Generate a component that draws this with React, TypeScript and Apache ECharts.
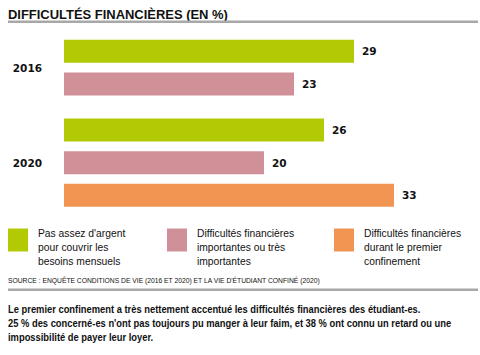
import React, { useEffect, useRef } from "react";
import * as echarts from "echarts";

const titleText = "DIFFICULTÉS FINANCIÈRES (EN %)";
const groupLabels = ["2016", "2020"];
const seriesNames = [
  "Pas assez d'argent\npour couvrir les\nbesoins mensuels",
  "Difficultés financières\nimportantes ou très\nimportantes",
  "Difficultés financières\ndurant le premier\nconfinement",
];
const seriesColors = ["#b1ca04", "#cf9098", "#f29553"];
const cats2016 = ["a", "b"];
const cats2020 = ["c", "d", "e"];
// per series: values in each category slot (null = no bar)
const green2016 = [29, null];
const pink2016 = [null, 23];
const green2020 = [26, null, null];
const pink2020 = [null, 20, null];
const orange2020 = [null, null, 33];
const sourceText =
  "SOURCE : ENQUÊTE CONDITIONS DE VIE (2016 ET 2020) ET LA VIE D'ÉTUDIANT CONFINÉ (2020)";
const noteLines = [
  "Le premier confinement a très nettement accentué les difficultés financières des étudiant-es.",
  "25 % des concerné-es n'ont pas toujours pu manger à leur faim, et 38 % ont connu un retard ou une",
  "impossibilité de payer leur loyer.",
];

const sans = "'Liberation Sans', Arial, sans-serif";
const wide = "'DejaVu Sans', sans-serif";

function measure(text: string, font: string): number {
  const c = document.createElement("canvas").getContext("2d")!;
  c.font = font;
  return c.measureText(text).width;
}

export default function App() {
  const ref = useRef<HTMLDivElement>(null);
  useEffect(() => {
    const chart = echarts.init(ref.current!, null, { renderer: "svg" });
    const label = {
      show: true,
      position: "right" as const,
      distance: 8,
      fontFamily: wide,
      fontWeight: "bold" as const,
      fontSize: 10.5,
      color: "#111",
    };
    const mk = (nameIdx: number, data: (number | null)[], gi: number) => ({
      type: "bar" as const,
      name: seriesNames[nameIdx],
      xAxisIndex: gi,
      yAxisIndex: gi,
      stack: "g" + gi,
      barWidth: 23,
      data,
      itemStyle: { color: seriesColors[nameIdx] },
      label,
    });
    const yAxisBase = {
      type: "category" as const,
      inverse: true,
      axisLine: { show: false },
      axisTick: { show: false },
      axisLabel: { show: false },
      nameLocation: "middle" as const,
      nameRotate: 0,
      nameGap: 22,
      nameTextStyle: {
        fontFamily: wide,
        fontWeight: "bold" as const,
        fontSize: 10.5,
        color: "#111",
        align: "right" as const,
      },
    };
    const xAxisBase = {
      type: "value" as const,
      min: 0,
      max: 40,
      show: false,
    };
    const legendText = {
      fontFamily: sans,
      fontSize: 10.3,
      lineHeight: 14,
      color: "#111",
      padding: [0, 0, 0, 5],
    };
    const legendLefts = [8, 167, 334];

    const titleFont = "bold 13.5px " + sans;
    const titleScale = 220 / measure(titleText, titleFont);
    const sourceFont = "7.5px " + sans;
    const sourceScale = 312.5 / measure(sourceText, sourceFont);
    const noteFont = "bold 11px " + sans;
    const noteScale = 444 / measure(noteLines[1], noteFont);

    chart.setOption({
      animation: false,
      grid: [
        { left: 64, width: 400, top: 35, height: 65.33 },
        { left: 64, width: 400, top: 113.67, height: 98 },
      ],
      xAxis: [
        { ...xAxisBase, gridIndex: 0 },
        { ...xAxisBase, gridIndex: 1 },
      ],
      yAxis: [
        { ...yAxisBase, gridIndex: 0, data: cats2016, name: groupLabels[0] },
        { ...yAxisBase, gridIndex: 1, data: cats2020, name: groupLabels[1] },
      ],
      legend: seriesNames.map((n, i) => ({
        data: [n],
        left: legendLefts[i],
        top: 212,
        padding: 0,
        itemWidth: 20,
        itemHeight: 23,
        icon: "rect",
        selectedMode: false,
        formatter: (name: string) => "\n" + name,
        textStyle: legendText,
      })),
      series: [
        mk(0, green2016, 0),
        mk(1, pink2016, 0),
        mk(0, green2020, 1),
        mk(1, pink2020, 1),
        mk(2, orange2020, 1),
      ],
      graphic: [
        {
          type: "text",
          x: 8,
          y: 14.5,
          scaleX: titleScale,
          style: { text: titleText, font: titleFont, fill: "#111", verticalAlign: "middle" },
        },
        { type: "rect", shape: { x: 8, y: 20.5, width: 470, height: 2.5 }, style: { fill: "#a8a8a8" } },
        {
          type: "text",
          x: 8,
          y: 281,
          scaleX: sourceScale,
          style: { text: sourceText, font: sourceFont, fill: "#111", verticalAlign: "middle" },
        },
        { type: "rect", shape: { x: 8, y: 288.5, width: 470, height: 2.5 }, style: { fill: "#a8a8a8" } },
        ...noteLines.map((t, i) => ({
          type: "text",
          x: 8,
          y: 309.5 + i * 14,
          scaleX: noteScale,
          style: { text: t, font: noteFont, fill: "#111", verticalAlign: "middle" },
        })),
      ],
    });
    return () => chart.dispose();
  }, []);
  return <div ref={ref} style={{ width: 480, height: 355, position: "absolute", left: 0, top: 0 }} />;
}
